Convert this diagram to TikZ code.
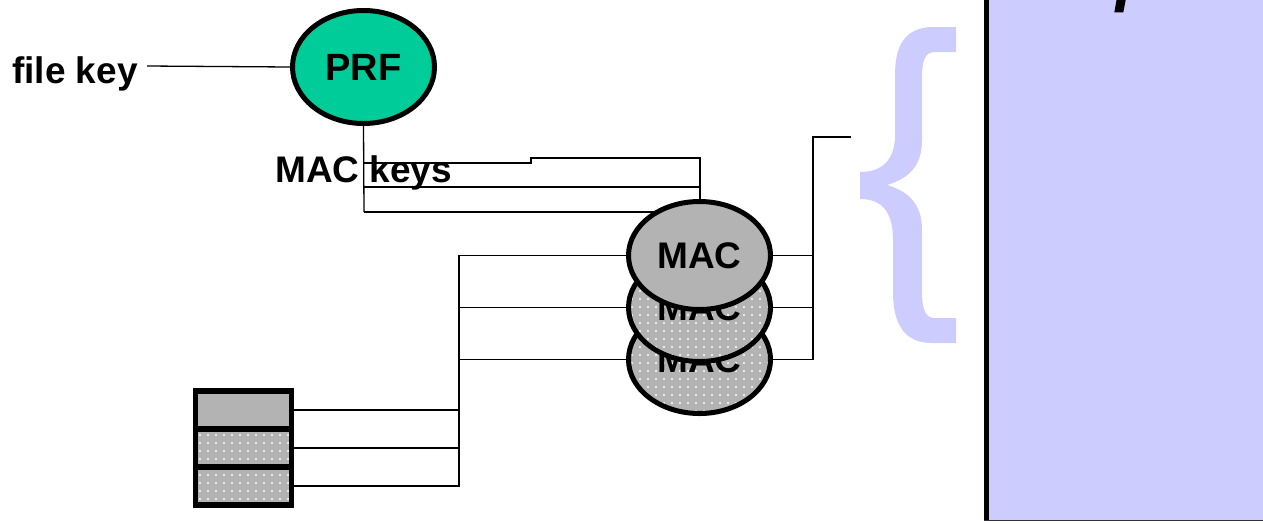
\documentclass[tikz,border=0pt]{standalone}
\usepackage{fontspec}
\setmainfont{Liberation Sans}
\usetikzlibrary{shapes.geometric,patterns.meta}
\definecolor{prfgreen}{HTML}{00CC99}
\definecolor{macgrey}{HTML}{B3B3B3}
\definecolor{lav}{HTML}{CCCCFF}
\tikzset{
  lbl/.style={font=\fontsize{37}{40}\selectfont\bfseries, inner sep=0pt},
  wire/.style={line width=1.3pt, black},
  prfnode/.style={ellipse, draw, line width=5pt, fill=prfgreen, inner sep=0pt,
     minimum width=142pt, minimum height=113pt, font=\fontsize{38}{40}\selectfont\bfseries},
  macnode/.style={ellipse, draw, line width=5pt, fill=macgrey, inner sep=0pt,
     minimum width=142pt, minimum height=108pt, font=\fontsize{37}{40}\selectfont\bfseries},
  dotted fill/.style={fill=none, preaction={fill=macgrey},
     preaction={pattern={Dots[distance=8pt, radius=1.1pt]}, pattern color=white}},
  cell/.style={rectangle, draw, line width=5.5pt, fill=macgrey, inner sep=0pt,
     minimum width=96pt, minimum height=38pt},
}
\begin{document}
\begin{tikzpicture}[x=1pt, y=-1pt]
\useasboundingbox (0,0) rectangle (1263,523);
\begin{scope}
\clip (0,0) rectangle (1263,523);
% right box
\fill[lav] (984,-10) rectangle (1275,521);
\draw[line width=5pt] (986.5,-10) -- (986.5,521);
\draw[line width=1.5pt, black!80] (984,520.5) -- (1275,520.5);
\fill (1114.3,12.3) -- (1116.7,-1) -- (1125.9,-1) -- (1123.3,12.3) -- cycle;
\end{scope}
% brace
\fill[lav] (956,27) -- (930,27) .. controls (905,29) and (895,45) .. (895,75) -- (895,135)
  .. controls (895,160) and (882,172) .. (860,172) -- (860,199)
  .. controls (882,199) and (893,212) .. (893,240) -- (893,292)
  .. controls (893,325) and (905,343) .. (932,343) -- (956,343) -- (956,318) -- (934,318)
  .. controls (924,318) and (922,305) .. (922,292) -- (922,230)
  .. controls (922,205) and (910,192) .. (887,185)
  .. controls (910,178) and (922,165) .. (922,140) -- (922,78)
  .. controls (922,60) and (925,52) .. (935,52) -- (956,52) -- cycle;

% texts
\node[lbl, anchor=base west] (fk) at (12,83) {file key};
\node[lbl, anchor=base west] (mk) at (275,182) {MAC keys};

% coordinates
\coordinate (fkend) at (147,66);
\coordinate (k1) at (364,163);
\coordinate (k1a) at (531,163);
\coordinate (k1b) at (531,158);
\coordinate (k1c) at (700,158);
\coordinate (k2) at (364,187);
\coordinate (k2e) at (700,187);
\coordinate (k3) at (364,212);
\coordinate (k3e) at (690,212);
\coordinate (out) at (851,137);
\coordinate (rx) at (813,137);

% wires behind
\draw[wire] (k1) -- (k1a) -- (k1b) -- (k1c) -- (700,205);
\draw[wire] (k2) -- (k2e);
\draw[wire] (k3) -- (k3e);

% PRF
\node[prfnode] (prf) at (363.5,67) {PRF};
\draw[wire] (fkend) -- (prf.west);
\draw[wire] (prf.south) -- (k3);

% MAC stack
\node[macnode, dotted fill] (m3) at (699.5,359.5) {MAC};
\node[macnode, dotted fill] (m2) at (699.5,307.5) {MAC};
\node[macnode] (m1) at (699.5,255.5) {MAC};

% cells
\node[cell, dotted fill] (c3) at (243.5,486) {};
\node[cell, dotted fill] (c2) at (243.5,448) {};
\node[cell] (c1) at (243.5,410) {};

% left wires
\draw[wire] (c1.east) -- (459,410);
\draw[wire] (c2.east) -- (459,448);
\draw[wire] (c3.east) -- (459,486) -- (459,255.5) -- (m1.west);
\draw[wire] (459,307.5) -- (m2.west);
\draw[wire] (459,359.5) -- (m3.west);

% right wires
\draw[wire] (m1.east) -- (813,255.5);
\draw[wire] (m2.east) -- (813,307.5);
\draw[wire] (m3.east) -- (813,359.5) -- (rx) -- (out);
\end{tikzpicture}
\end{document}
